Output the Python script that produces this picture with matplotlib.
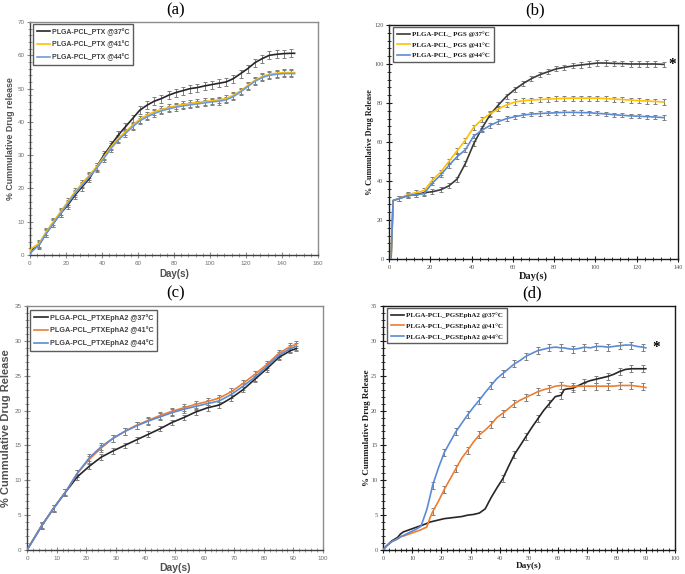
import numpy as np
import matplotlib
matplotlib.use('Agg')
import matplotlib.pyplot as plt
from matplotlib.ticker import MultipleLocator, AutoMinorLocator

# ---- panel (a) : PLGA-PCL_PTX ----
xa = [0, 1, 5, 9, 13, 17, 21, 25, 29, 33, 37, 41, 45, 49, 53, 57, 61, 65, 69, 73,
      77, 81, 85, 89, 93, 97, 101, 105, 109, 113, 117, 121, 125, 129, 133, 137, 141, 145, 147]
a37 = [0.5, 1.5, 3, 6.5, 9.5, 12.5, 15, 18, 20.5, 23, 26.5, 30, 33, 36, 38.5, 41, 43.5, 45, 46.2, 47,
       48, 48.8, 49.4, 50, 50.3, 50.8, 51.2, 51.6, 52, 53, 54.5, 56, 57.8, 59, 60, 60.3, 60.5, 60.6, 60.6]
a41 = [1, 2, 3.5, 7, 10, 13, 16, 19, 21.5, 24, 26.5, 29.5, 32.5, 35, 37, 39, 40.8, 42, 43, 43.7,
       44.3, 44.8, 45.2, 45.5, 45.8, 46.1, 46.3, 46.6, 47, 48, 49.3, 51, 52.5, 53.6, 54.3, 54.6, 54.8, 54.8, 54.8]
a44 = [0, 1, 3, 6.5, 9.5, 12.5, 15.5, 18.5, 21, 23.5, 26, 29, 32, 34.5, 36.5, 38.5, 40.3, 41.5, 42.5, 43.3,
       43.9, 44.4, 44.8, 45.1, 45.4, 45.7, 46, 46.2, 46.6, 47.6, 49, 50.6, 52.2, 53.3, 54, 54.3, 54.5, 54.5, 54.5]

# ---- panel (b) : PLGA-PCL_PGS ----
xb = [1, 2, 5, 9, 13, 17, 21, 25, 29, 33, 37, 41, 45, 49, 53, 57, 61, 65, 69, 73, 77,
      81, 85, 89, 93, 97, 101, 105, 109, 113, 117, 121, 125, 129, 133]
b37 = [0, 30, 31, 32.5, 33, 34, 34.5, 35.5, 37.5, 41, 49, 59, 67, 74, 79, 83.5, 87, 90, 92.5, 94.5, 96,
       97.5, 98.3, 99, 99.5, 100, 100.5, 100.5, 100.3, 100.2, 100, 100, 100, 100, 99.8]
b41 = [0, 30, 31, 33, 34, 35, 40.5, 44.5, 50, 55.5, 61, 67.5, 71.5, 74.5, 77, 79, 80.5, 81.2, 81.5, 81.8, 82,
       82.2, 82.4, 82.5, 82.5, 82.5, 82.5, 82.3, 82, 81.8, 81.5, 81.2, 81, 80.8, 80.5]
b44 = [0, 30, 31, 32.5, 33, 33.5, 39, 43, 48, 52.5, 56, 63, 66, 68.5, 70.5, 72, 73, 73.8, 74.3, 74.6, 74.8,
       75, 75.2, 75.2, 75.1, 75, 74.7, 74.4, 74, 73.7, 73.4, 73.2, 73, 72.8, 72.5]

# ---- panel (c) : PLGA-PCL_PTXEphA2 ----
xc = [0, 5, 9, 13, 17, 21, 25, 29, 33, 37, 41, 45, 49, 53, 57, 61, 65, 69, 73, 77, 81, 85, 89, 91]
c37 = [0, 3.5, 6, 8.3, 10.5, 12, 13.3, 14.2, 15, 15.8, 16.6, 17.4, 18.3, 19, 19.8, 20.4, 20.8,
       21.8, 23, 24.5, 26, 27.6, 28.6, 28.9]
c41 = [0, 3.5, 6, 8.3, 11, 13, 14.6, 16, 17, 17.9, 18.6, 19.3, 19.9, 20.4, 20.9, 21.3, 21.8,
       22.7, 23.9, 25.2, 26.6, 28.2, 29.2, 29.5]
c44 = [0, 3.5, 6, 8.3, 11, 13.2, 14.8, 16, 17, 17.8, 18.5, 19.1, 19.7, 20.2, 20.6, 21, 21.4,
       22.3, 23.5, 24.8, 26.3, 27.9, 28.9, 29.2]

# ---- panel (d) : PLGA-PCL_PGSEphA2 ----
xd = [0, 1, 3, 5, 6, 7, 9, 11, 13, 15, 16, 17, 19, 21, 23, 25, 27, 29, 31, 33, 35, 37, 39, 41, 43, 45,
      47, 49, 51, 53, 55, 57, 59, 61, 62, 63, 65, 67, 69, 71, 73, 75, 77, 79, 81, 83, 85, 87, 89, 90]
d37 = [0, 0.5, 1.3, 1.8, 2.3, 2.6, 2.9, 3.2, 3.5, 3.8, 4.0, 4.1, 4.3, 4.5, 4.6, 4.7, 4.8, 5.0, 5.1, 5.3,
       5.9, 7.5, 8.9, 10.2, 12, 13.7, 15, 16.3, 17.6, 18.8, 20, 21, 22, 22.2, 23, 23.1, 23.2, 23.6,
       24, 24.3, 24.5, 24.7, 24.9, 25.2, 25.6, 25.9, 26, 26, 26, 26]
d41 = [0, 0.5, 1.2, 1.6, 1.9, 2.0, 2.3, 2.6, 2.9, 3.3, 4.5, 5.5, 7, 8.7, 10.2, 11.7, 13.2, 14.3, 15.5, 16.5,
       17.2, 18, 19, 19.6, 20.3, 21, 21.5, 21.9, 22.3, 22.7, 23, 23.2, 23.5, 23.6, 23.6, 23.5, 23.4, 23.5,
       23.5, 23.5, 23.5, 23.5, 23.5, 23.5, 23.6, 23.6, 23.6, 23.5, 23.4, 23.3]
d44 = [0, 0.5, 1.2, 1.6, 1.9, 2.1, 2.5, 2.9, 3.4, 5.8, 7.5, 9.3, 11.8, 14, 15.5, 17, 18.2, 19.4, 20.5, 21.5,
       22.6, 23.6, 24.6, 25.3, 26, 26.7, 27.2, 27.8, 28.2, 28.6, 28.8, 29, 29.1, 29, 29, 28.9, 28.8, 28.9,
       29.1, 29, 29.2, 29.2, 29.1, 29.2, 29.3, 29.4, 29.4, 29.2, 29.1, 29.0]

K = '#262626'
YEL = '#FFC000'
BLU = '#5B8AD6'
ORA = '#ED7D31'
ERR = '#7F7F7F'

fig = plt.figure(figsize=(6.85, 5.74), dpi=100)
W, H = 685.0, 574.0


def make_ax(l, r, t, b):
    return fig.add_axes([l / W, 1 - b / H, (r - l) / W, (b - t) / H])


def style_ax(ax, xmax, xstep, ymax, ystep, frame, labfont, tickcol):
    ax.set_xlim(0, xmax)
    ax.set_ylim(0, ymax)
    ax.xaxis.set_major_locator(MultipleLocator(xstep))
    ax.yaxis.set_major_locator(MultipleLocator(ystep))
    ax.xaxis.set_minor_locator(AutoMinorLocator(5))
    ax.yaxis.set_minor_locator(AutoMinorLocator(5))
    ax.tick_params(which='major', direction='inout', length=4, width=0.8, labelsize=4.5,
                   labelcolor=tickcol, color=frame, pad=2)
    ax.tick_params(which='minor', direction='inout', length=3, width=0.6, color=frame)
    for s in ax.spines.values():
        s.set_color(frame)
        s.set_linewidth(1.0)
    for lab in ax.get_xticklabels() + ax.get_yticklabels():
        lab.set_family(labfont)


def draw(ax, x, ys, cols, labels, errs, every, lw=1.2):
    for y, c, lab, e in zip(ys, cols, labels, errs):
        ax.plot(x, y, color=c, lw=lw, label=lab, zorder=3)
        xe = [v for i, v in enumerate(x) if i in every]
        ye = [v for i, v in enumerate(y) if i in every]
        ax.errorbar(xe, ye, yerr=e, fmt='none', ecolor=ERR, elinewidth=0.7,
                    capsize=1.6, capthick=0.7, zorder=2)


def legend(ax, font, textcol, size, bbox):
    lg = ax.legend(loc='upper left', bbox_to_anchor=bbox, frameon=True, fancybox=False,
                   prop={'family': font, 'weight': 'bold', 'size': size},
                   handlelength=1.9, handletextpad=0.3, borderpad=0.55, labelspacing=0.7,
                   borderaxespad=0)
    lg.get_frame().set_edgecolor('#333333')
    lg.get_frame().set_linewidth(1.0)
    for t in lg.get_texts():
        t.set_color(textcol)


def labels(ax, font, col, xs, ys, xoff, yoff, ytext):
    ax.set_xlabel('Day(s)', family=font, weight='bold', size=xs, color=col)
    ax.set_ylabel(ytext, family=font, weight='bold', size=ys, color=col)
    ax.xaxis.set_label_coords(0.5, yoff)
    ax.yaxis.set_label_coords(xoff, 0.5)
    ax.xaxis.label.set_va('center')
    ax.yaxis.label.set_va('center')


sans = 'Liberation Sans'
serif = 'Liberation Serif'

# (a)
ax = make_ax(30, 318, 22, 255)
style_ax(ax, 160, 20, 70, 10, '#8C8C8C', sans, '#6E6E6E')
ax.spines['left'].set_color('#404040')
ax.spines['bottom'].set_color('#404040')
draw(ax, xa, [a37, a41, a44], [K, YEL, '#6F9BDB'],
     ['PLGA-PCL_PTX @37°C', 'PLGA-PCL_PTX @41°C', 'PLGA-PCL_PTX @44°C'],
     [1.2, 1.0, 1.0], set(range(2, len(xa) - 1)))
legend(ax, sans, '#404040', 5.0, (0.01, 0.99))
labels(ax, sans, '#505050', 7, 6.4, -0.069, -0.082, '% Cummulative Drug release')

# (b)
ax = make_ax(389, 678, 25, 259)
style_ax(ax, 140, 20, 120, 20, '#1A1A1A', serif, '#505050')
draw(ax, xb, [b37, b41, b44], ['#3A3A3A', YEL, BLU],
     ['PLGA-PCL_ PGS @37°C', 'PLGA-PCL_ PGS @41°C', 'PLGA-PCL_ PGS @44°C'],
     [1.3, 1.3, 1.1], set(range(2, len(xb))))
legend(ax, serif, '#1A1A1A', 5.0, (0.015, 0.99))
ax.text(137, 100, '*', family=serif, weight='bold', size=11, ha='center', va='center', clip_on=False)
labels(ax, serif, '#1A1A1A', 7.5, 5.9, -0.066, -0.073, '% Cummulative Drug Release')

# (c)
ax = make_ax(27, 323, 306, 550)
style_ax(ax, 100, 10, 35, 5, '#8C8C8C', sans, '#6E6E6E')
ax.spines['left'].set_color('#404040')
ax.spines['bottom'].set_color('#404040')
draw(ax, xc, [c37, c41, c44], [K, ORA, BLU],
     ['PLGA-PCL_PTXEphA2 @37°C', 'PLGA-PCL_PTXEphA2 @41°C', 'PLGA-PCL_PTXEphA2 @44°C'],
     [0.4, 0.5, 0.5], set(range(1, len(xc))))
legend(ax, sans, '#404040', 5.2, (0.01, 0.985))
labels(ax, sans, '#505050', 7.5, 8, -0.072, -0.072, '% Cummulative Drug Release')

# (d)
ax = make_ax(383, 675, 306, 550)
style_ax(ax, 100, 10, 35, 5, '#1A1A1A', serif, '#505050')
every_d = {i for i, v in enumerate(xd) if v >= 17 and (v - 1) % 4 == 0}
every_k = {i for i, v in enumerate(xd) if v >= 41 and (v - 1) % 4 == 0}
draw(ax, xd, [d37], [K], ['PLGA-PCL_PGSEphA2 @37°C'], [0.5], every_k)
draw(ax, xd, [d41, d44], [ORA, BLU],
     ['PLGA-PCL_PGSEphA2 @41°C', 'PLGA-PCL_PGSEphA2 @44°C'], [0.5, 0.5], every_d)
legend(ax, serif, '#1A1A1A', 5.0, (0.015, 0.99))
ax.text(93.5, 29, '*', family=serif, weight='bold', size=11, ha='center', va='center', clip_on=False)
labels(ax, serif, '#1A1A1A', 6.7, 6.5, -0.055, -0.066, '% Cummulative Drug Release')

# panel letters
for txt, x, y in [('(a)', 176, 10), ('(b)', 535, 10), ('(c)', 176, 293), ('(d)', 532, 293)]:
    fig.text(x / W, 1 - y / H, txt, family=serif, size=12, ha='center', va='center')

fig.savefig('out.png', dpi=100)
